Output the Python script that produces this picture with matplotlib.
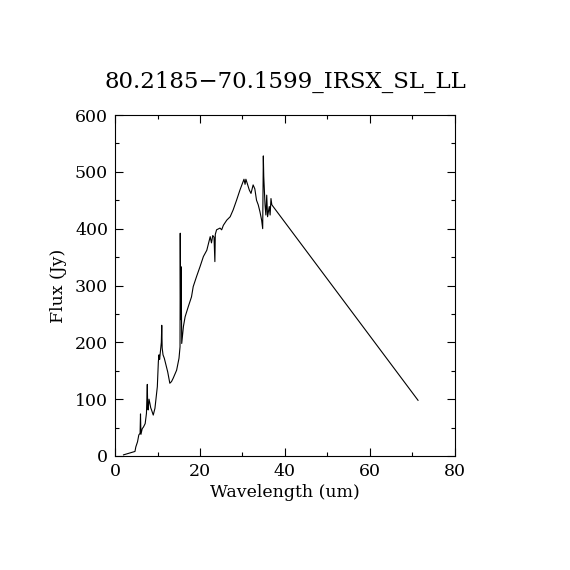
import matplotlib
matplotlib.use("Agg")
import matplotlib.pyplot as plt
from matplotlib.ticker import MultipleLocator

title = "80.2185\u221270.1599_IRSX_SL_LL"
xlabel = "Wavelength (um)"
ylabel = "Flux (Jy)"

wavelength = [2.0, 4.7, 4.9, 5.3, 5.6, 5.9, 6.0, 6.1, 6.4, 6.7, 7.1, 7.4, 7.6, 7.7,
              7.8, 8.0, 8.2, 8.4, 8.6, 9.0, 9.4, 9.96, 10.2, 10.35, 10.5, 10.7,
              10.9, 11.0, 11.1, 11.3, 11.6, 12.0, 12.4, 12.9, 13.3, 13.7, 14.5,
              15.06, 15.3, 15.35, 15.45, 15.55, 15.7, 16.1, 16.5, 17.25, 18.0,
              18.4, 19.2, 20.0, 20.8, 21.6, 22.2, 22.4, 22.7, 23.0, 23.3, 23.5,
              23.6, 23.9, 24.7, 25.1, 25.5, 26.3, 27.1, 27.8, 28.6, 29.4, 30.0,
              30.35, 30.6, 30.8, 31.1, 31.6, 32.0, 32.5, 32.9, 33.3, 33.7, 34.1,
              34.5, 34.75, 34.9, 35.0, 35.3, 35.5, 35.7, 35.9, 36.3, 36.5, 36.7,
              36.9, 71.3]
flux = [2, 8, 16, 25, 37, 40, 74, 38, 48, 51, 57, 75, 126, 85,
        81, 100, 93, 85, 81, 72, 84, 122, 166, 178, 170, 185,
        200, 230, 190, 178, 172, 160, 148, 128, 131, 137, 151,
        172, 192, 392, 240, 333, 198, 228, 245, 263, 280,
        298, 316, 333, 351, 362, 380, 386, 375, 388, 385, 342,
        390, 398, 401, 398, 406, 415, 421, 433, 450, 468, 480,
        487, 478, 487, 480, 468, 462, 477, 470, 450, 442, 430,
        415, 400, 528, 492, 442, 424, 459, 421, 439, 424, 453,
        442, 98]

fig = plt.figure(figsize=(5.7, 5.7), dpi=100)
ax = fig.add_axes([115/570, 1-456/570, 340/570, 341/570])
ax.plot(wavelength, flux, color="black", linewidth=0.8)
ax.set_xlim(0, 80)
ax.set_ylim(0, 600)
ax.xaxis.set_major_locator(MultipleLocator(20))
ax.xaxis.set_minor_locator(MultipleLocator(10))
ax.yaxis.set_major_locator(MultipleLocator(100))
ax.yaxis.set_minor_locator(MultipleLocator(50))
ax.tick_params(which="both", direction="in", top=True, right=True, width=0.8,
               labelsize=12.5, pad=5)
ax.tick_params(which="major", length=6)
ax.tick_params(which="minor", length=3)
for s in ax.spines.values():
    s.set_linewidth(0.8)
for lab in ax.get_xticklabels() + ax.get_yticklabels():
    lab.set_family("DejaVu Serif")
ax.set_xlabel(xlabel, family="DejaVu Serif", fontsize=12.5, labelpad=3)
ax.set_ylabel(ylabel, family="DejaVu Serif", fontsize=12.5, labelpad=6)
fig.text(0.5, 1-82/570, title, family="DejaVu Serif", fontsize=16.5,
         ha="center", va="center")
fig.savefig("out.png", dpi=100, facecolor="white")
